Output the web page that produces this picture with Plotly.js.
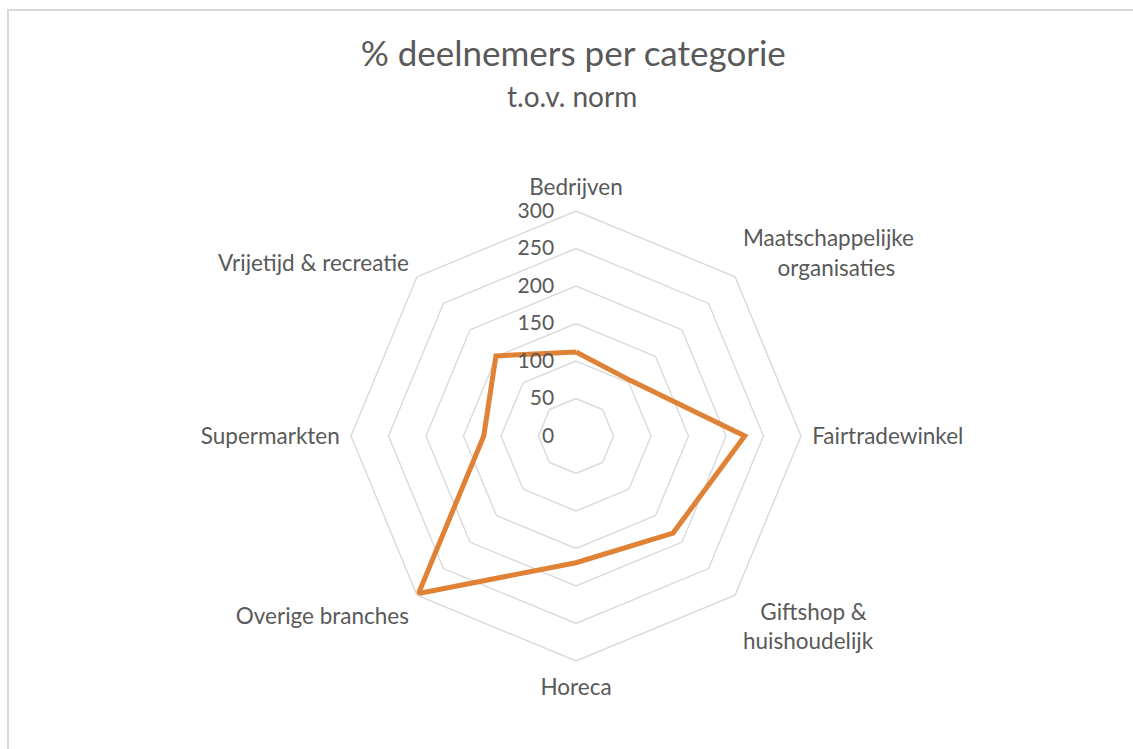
<!DOCTYPE html>
<html>
<head>
<meta charset="utf-8">
<script src="https://cdn.plot.ly/plotly-3.0.1.min.js"></script>
<style>
  html, body { margin: 0; padding: 0; background: #fff; overflow: hidden; }
  #frame { position: absolute; left: 7px; top: 9px; width: 1200px; height: 800px;
           border-left: 2px solid #d9d9d9; border-top: 2px solid #d9d9d9; }
  #chart { position: absolute; left: 0; top: 0; width: 1133px; height: 749px; }
</style>
</head>
<body>
<div id="frame"></div>
<div id="chart"></div>
<script>
const categories = ["Bedrijven", "Maatschappelijke organisaties", "Fairtradewinkel",
  "Giftshop & huishoudelijk", "Horeca", "Overige branches", "Supermarkten", "Vrijetijd & recreatie"];
const categoryLabels = ["Bedrijven", "Maatschappelijke<br>&nbsp;&nbsp;&nbsp;&nbsp;&nbsp;&nbsp;organisaties", "Fairtradewinkel",
  "&nbsp;&nbsp;&nbsp;Giftshop &<br>huishoudelijk", "Horeca", "Overige branches", "Supermarkten", "Vrijetijd & recreatie"];
const values = [112, 104, 225, 183, 169, 297, 123, 151];
const radialTicks = [0, 50, 100, 150, 200, 250, 300];

const W = 1133, H = 749;
const cx = 576, cy = 436, R = 225;
const font = "Lato, 'Liberation Sans', sans-serif";
const grey = "#595959";

const trace = {
  type: "scatterpolar",
  mode: "lines",
  r: values.concat([values[0]]),
  theta: categories.concat([categories[0]]),
  line: { color: "#E08236", width: 5 },
  hoverinfo: "skip",
  showlegend: false
};

const layout = {
  width: W, height: H,
  margin: { l: 0, r: 0, t: 0, b: 0 },
  paper_bgcolor: "rgba(0,0,0,0)",
  plot_bgcolor: "rgba(0,0,0,0)",
  font: { family: font, color: grey },
  title: {
    text: "% deelnemers per categorie",
    font: { family: font, size: 35, color: grey },
    x: 0.506, xanchor: "center",
    y: 1 - 54 / H, yanchor: "middle"
  },
  annotations: [{
    text: "t.o.v. norm",
    xref: "paper", yref: "paper",
    x: 0.505, xanchor: "center",
    y: 1 - 96 / H, yanchor: "middle",
    showarrow: false,
    font: { family: font, size: 28, color: grey }
  }],
  polar: {
    domain: { x: [(cx - R) / W, (cx + R) / W], y: [(H - cy - R) / H, (H - cy + R) / H] },
    gridshape: "linear",
    bgcolor: "rgba(0,0,0,0)",
    radialaxis: {
      range: [0, 300],
      tickvals: radialTicks,
      angle: 90,
      tickangle: 90,
      side: "counterclockwise",
      showline: false,
      ticks: "outside", ticklen: 14, tickcolor: "rgba(0,0,0,0)",
      gridcolor: "#d9d9d9", gridwidth: 1.4,
      tickfont: { family: font, size: 21, color: grey }
    },
    angularaxis: {
      type: "category",
      categoryarray: categories,
      tickvals: categories,
      ticktext: categoryLabels,
      direction: "clockwise",
      rotation: 90,
      showgrid: false,
      showline: true, linecolor: "#d9d9d9", linewidth: 1.4,
      ticks: "outside", ticklen: 6, tickcolor: "rgba(0,0,0,0)",
      tickfont: { family: font, size: 22.5, color: grey }
    }
  }
};

Plotly.newPlot("chart", [trace], layout, { displayModeBar: false, staticPlot: true });
</script>
</body>
</html>
